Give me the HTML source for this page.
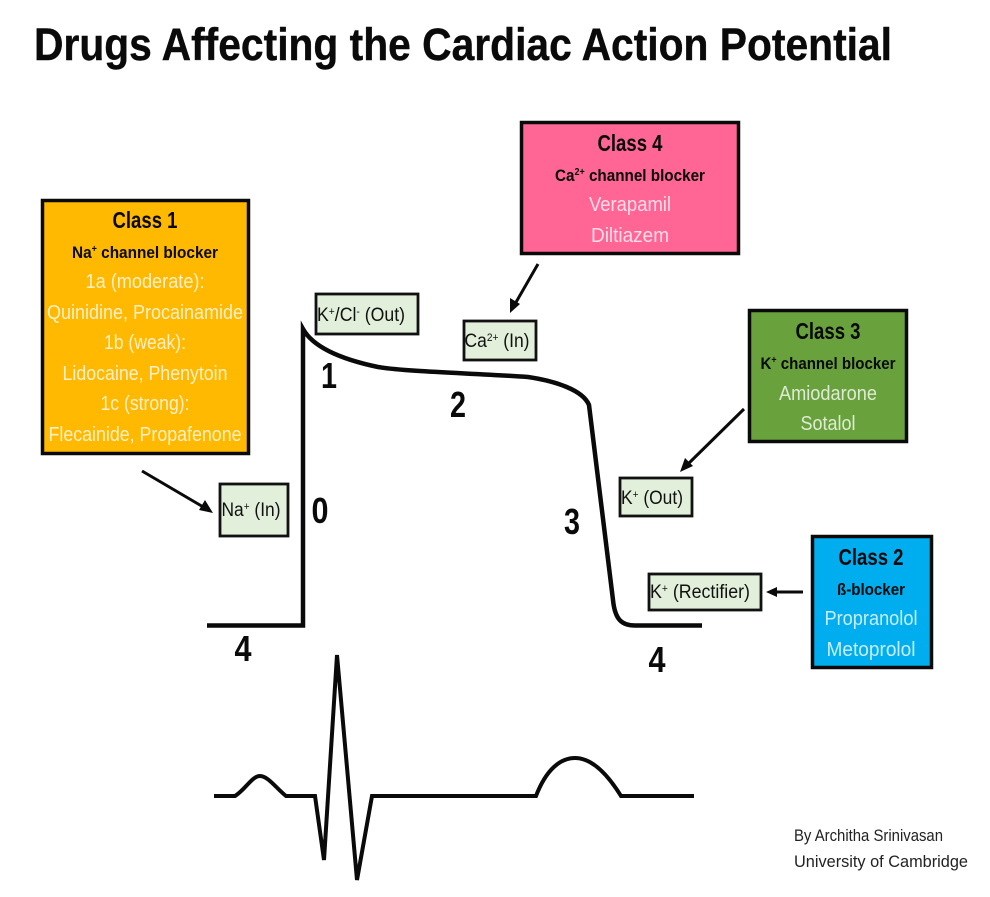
<!DOCTYPE html>
<html>
<head>
<meta charset="utf-8">
<style>
html,body{margin:0;padding:0;background:#fff}
svg{display:block;filter:blur(.35px)}
text{font-family:"Liberation Sans",sans-serif;text-anchor:middle}
.h{font-weight:bold;font-size:23px;fill:#0a0a0a}
.s{font-weight:bold;font-size:17px;fill:#0a0a0a}
.w{font-size:20px;fill:#fff;fill-opacity:.78}
.g{font-size:19px;fill:#111}
.n{font-weight:bold;font-size:36px;fill:#0a0a0a}
.b{stroke:#0a0a0a;stroke-width:3.5}
.c{fill:#e2efda;stroke:#111;stroke-width:2.8}
.l{fill:none;stroke:#0a0a0a;stroke-width:4.5}
.e{fill:none;stroke:#0a0a0a;stroke-width:4;stroke-linejoin:miter}
.a{stroke:#0a0a0a;stroke-width:3}
</style>
</head>
<body>
<svg width="990" height="897" viewBox="0 0 990 897" xmlns="http://www.w3.org/2000/svg">
<rect width="990" height="897" fill="#fff"/>
<text x="463" y="60" font-size="45" font-weight="bold" fill="#0a0a0a" stroke="#0a0a0a" stroke-width=".4" textLength="858" lengthAdjust="spacingAndGlyphs">Drugs Affecting the Cardiac Action Potential</text>

<!-- Class 1 -->
<rect class="b" x="42.5" y="200.5" width="206" height="253" fill="#ffb900"/>
<text class="h" x="145" y="228" textLength="65" lengthAdjust="spacingAndGlyphs">Class 1</text>
<text class="s" x="145" y="258" textLength="146" lengthAdjust="spacingAndGlyphs">Na<tspan font-size="10" dy="-6">+</tspan><tspan dy="6"> channel blocker</tspan></text>
<text class="w" x="145" y="288" textLength="119" lengthAdjust="spacingAndGlyphs">1a (moderate):</text>
<text class="w" x="145" y="319" textLength="196" lengthAdjust="spacingAndGlyphs">Quinidine, Procainamide</text>
<text class="w" x="145" y="349" textLength="82" lengthAdjust="spacingAndGlyphs">1b (weak):</text>
<text class="w" x="145" y="380" textLength="165" lengthAdjust="spacingAndGlyphs">Lidocaine, Phenytoin</text>
<text class="w" x="145" y="410" textLength="89" lengthAdjust="spacingAndGlyphs">1c (strong):</text>
<text class="w" x="145" y="441" textLength="193" lengthAdjust="spacingAndGlyphs">Flecainide, Propafenone</text>

<!-- Class 4 -->
<rect class="b" x="521.5" y="122.5" width="217" height="131" fill="#ff6695"/>
<text class="h" x="630" y="151" textLength="65" lengthAdjust="spacingAndGlyphs">Class 4</text>
<text class="s" x="630" y="181" textLength="150" lengthAdjust="spacingAndGlyphs">Ca<tspan font-size="10" dy="-6">2+</tspan><tspan dy="6"> channel blocker</tspan></text>
<text class="w" x="630" y="211" textLength="82" lengthAdjust="spacingAndGlyphs">Verapamil</text>
<text class="w" x="630" y="242" textLength="78" lengthAdjust="spacingAndGlyphs">Diltiazem</text>

<!-- Class 3 -->
<rect class="b" x="749.5" y="310.5" width="157" height="131" fill="#69a23c"/>
<text class="h" x="828" y="339" textLength="65" lengthAdjust="spacingAndGlyphs">Class 3</text>
<text class="s" x="828" y="369" textLength="135" lengthAdjust="spacingAndGlyphs">K<tspan font-size="10" dy="-6">+</tspan><tspan dy="6"> channel blocker</tspan></text>
<text class="w" x="828" y="400" textLength="98" lengthAdjust="spacingAndGlyphs">Amiodarone</text>
<text class="w" x="828" y="430" textLength="55" lengthAdjust="spacingAndGlyphs">Sotalol</text>

<!-- Class 2 -->
<rect class="b" x="812.5" y="536.5" width="119" height="131" fill="#00aeef"/>
<text class="h" x="871" y="565" textLength="65" lengthAdjust="spacingAndGlyphs">Class 2</text>
<text class="s" x="871" y="595" textLength="68" lengthAdjust="spacingAndGlyphs">ß-blocker</text>
<text class="w" x="871" y="625" textLength="93" lengthAdjust="spacingAndGlyphs">Propranolol</text>
<text class="w" x="871" y="656" textLength="89" lengthAdjust="spacingAndGlyphs">Metoprolol</text>

<!-- Channel boxes -->
<rect class="c" x="316" y="294" width="102" height="40"/>
<text class="g" x="361" y="321" textLength="88" lengthAdjust="spacingAndGlyphs">K<tspan font-size="11" dy="-6">+</tspan><tspan dy="6">/Cl</tspan><tspan font-size="11" dy="-6">-</tspan><tspan dy="6"> (Out)</tspan></text>

<rect class="c" x="464" y="321" width="72" height="39"/>
<text class="g" x="497" y="347" textLength="65" lengthAdjust="spacingAndGlyphs">Ca<tspan font-size="11" dy="-6">2+</tspan><tspan dy="6"> (In)</tspan></text>

<rect class="c" x="220" y="484" width="68" height="52"/>
<text class="g" x="251" y="516" textLength="59" lengthAdjust="spacingAndGlyphs">Na<tspan font-size="11" dy="-6">+</tspan><tspan dy="6"> (In)</tspan></text>

<rect class="c" x="620" y="478" width="72" height="38"/>
<text class="g" x="652" y="504" textLength="62" lengthAdjust="spacingAndGlyphs">K<tspan font-size="11" dy="-6">+</tspan><tspan dy="6"> (Out)</tspan></text>

<rect class="c" x="649" y="574" width="112" height="36"/>
<text class="g" x="700" y="598" textLength="100" lengthAdjust="spacingAndGlyphs">K<tspan font-size="11" dy="-6">+</tspan><tspan dy="6"> (Rectifier)</tspan></text>

<!-- Arrows -->
<line class="a" x1="142" y1="471" x2="205" y2="508"/>
<polygon points="213,513 199,510 205,500" fill="#0a0a0a"/>
<line class="a" x1="538" y1="264" x2="515" y2="304"/>
<polygon points="510,313 510,298 520,304" fill="#0a0a0a"/>
<line class="a" x1="744" y1="409" x2="687" y2="465"/>
<polygon points="680,472 685,458 693,466" fill="#0a0a0a"/>
<line class="a" x1="803" y1="592" x2="775" y2="592"/>
<polygon points="766,592 777,587 777,597" fill="#0a0a0a"/>

<!-- Action potential -->
<path class="l" d="M207 625.5H303V329C312 345 335 358 378 367C410 372 470 373 528 377C555 381 583 390 589 405L613 600C615 620 622 625.5 635 625.5H702"/>

<!-- Phase numbers -->
<text class="n" x="329" y="388" textLength="16" lengthAdjust="spacingAndGlyphs">1</text>
<text class="n" x="458" y="417" textLength="16" lengthAdjust="spacingAndGlyphs">2</text>
<text class="n" x="572" y="534" textLength="16" lengthAdjust="spacingAndGlyphs">3</text>
<text class="n" x="320" y="523" textLength="17" lengthAdjust="spacingAndGlyphs">0</text>
<text class="n" x="243" y="661" textLength="17" lengthAdjust="spacingAndGlyphs">4</text>
<text class="n" x="657" y="672" textLength="17" lengthAdjust="spacingAndGlyphs">4</text>

<!-- ECG -->
<path class="e" d="M214 796H235C245 790 252 776 260 776C268 776 276 788 286 796H315L324 860L337 655L357 880L372 796H536C546 770 560 758 575 758C592 758 608 775 621 796H694"/>

<!-- Credit -->
<text x="794" y="841" font-size="17" fill="#222" style="text-anchor:start" textLength="149" lengthAdjust="spacingAndGlyphs">By Architha Srinivasan</text>
<text x="794" y="867" font-size="17" fill="#222" style="text-anchor:start" textLength="174" lengthAdjust="spacingAndGlyphs">University of Cambridge</text>
</svg>
</body>
</html>
